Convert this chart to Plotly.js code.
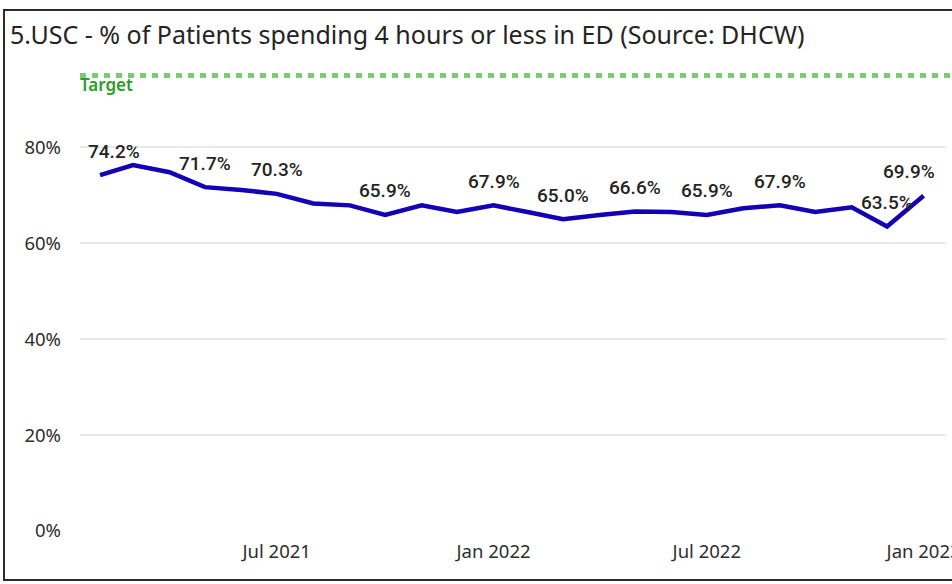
<!DOCTYPE html>
<html>
<head>
<meta charset="utf-8">
<script src="https://cdn.plot.ly/plotly-3.0.1.min.js"></script>
<style>
  html, body { margin: 0; padding: 0; background: #fff; overflow: hidden; }
  #wrap { position: relative; width: 952px; height: 584px; overflow: hidden; }
  #chart { position: absolute; left: 0; top: 0; width: 952px; height: 584px; }
  #frame { position: absolute; left: 3px; top: 9px; width: 1000px; height: 572px; border: 2px solid #2b2b2b; pointer-events: none; box-sizing: border-box; }
</style>
</head>
<body>
<div id="wrap">
  <div id="chart"></div>
  <div id="frame"></div>
</div>
<script>
const months = ["2021-02-01","2021-03-01","2021-04-01","2021-05-01","2021-06-01","2021-07-01",
                "2021-08-01","2021-09-01","2021-10-01","2021-11-01","2021-12-01","2022-01-01",
                "2022-02-01","2022-03-01","2022-04-01","2022-05-01","2022-06-01","2022-07-01",
                "2022-08-01","2022-09-01","2022-10-01","2022-11-01","2022-12-01","2023-01-01"];
const pctWithin4h = [74.2, 76.3, 74.8, 71.7, 71.1, 70.3,
                     68.3, 67.9, 65.9, 67.9, 66.5, 67.9,
                     66.4, 65.0, 65.9, 66.6, 66.5, 65.9,
                     67.3, 67.9, 66.5, 67.5, 63.5, 69.9];
const target = 95;
const targetLabel = "Target";
const labelledMonths = ["2021-02-01","2021-05-01","2021-07-01","2021-10-01","2022-01-01","2022-03-01",
                        "2022-05-01","2022-07-01","2022-09-01","2022-12-01","2023-01-01"];
const xTickVals = ["2021-07-01","2022-01-01","2022-07-01","2023-01-01"];
const xTickText = ["Jul 2021","Jan 2022","Jul 2022","Jan 2023"];
const yTickVals = [0, 20, 40, 60, 80];
const titleText = "5.USC - % of Patients spending 4 hours or less in ED (Source: DHCW)";

const labelFont = {family: "Roboto, 'DejaVu Sans', sans-serif", size: 19, color: "#252423", weight: 500};
const annotations = labelledMonths.map(function (m) {
  const i = months.indexOf(m);
  let xs = 0;
  if (i === 0) xs = 14;
  if (i === months.length - 1) xs = -15;
  return {
    x: m, y: pctWithin4h[i], xref: "x", yref: "y",
    text: pctWithin4h[i].toFixed(1) + "%",
    showarrow: false, yshift: 24, xshift: xs,
    font: labelFont
  };
});
annotations.push({
  xref: "paper", x: 0, xanchor: "left", yref: "y", y: target,
  text: targetLabel, showarrow: false, yshift: -9, xshift: -2,
  font: {family: "'Noto Sans', 'Open Sans', sans-serif", size: 17, color: "#2a9d27", weight: 600}
});

const traces = [{
  type: "scatter", mode: "lines",
  x: months, y: pctWithin4h,
  line: {color: "#1400b5", width: 4.5},
  hoverinfo: "skip"
}];

const tickFont = {family: "'Noto Sans', 'Open Sans', sans-serif", size: 18.5, color: "#2d2d2d"};

const layout = {
  width: 952, height: 584,
  margin: {l: 80, r: 6, t: 61, b: 53, pad: 0},
  paper_bgcolor: "#ffffff", plot_bgcolor: "#ffffff",
  showlegend: false,
  title: {
    text: titleText, xref: "container", yref: "container",
    x: 0.0105, xanchor: "left", y: 0.94, yanchor: "middle",
    font: {family: "'Noto Sans', 'Open Sans', sans-serif", size: 25, color: "#252423"}
  },
  xaxis: {
    type: "date", range: ["2021-01-15", "2023-01-20"],
    tickvals: xTickVals, ticktext: xTickText,
    showgrid: false, zeroline: false, showline: false, ticks: "",
    ticklabeloverflow: "allow", ticklabelstandoff: 7,
    tickfont: tickFont
  },
  yaxis: {
    range: [0, 98], tickvals: yTickVals, ticktext: yTickVals.map(v => v + "%"),
    showgrid: true, gridcolor: "#e9e9e9", gridwidth: 2,
    zeroline: false, showline: false, ticks: "",
    ticklabelstandoff: 18,
    tickfont: tickFont
  },
  shapes: [{
    type: "line", xref: "paper", x0: 0, x1: 1.01, yref: "y", y0: target, y1: target,
    line: {color: "#78cc74", width: 5, dash: "6px,6px"}
  }],
  annotations: annotations
};

Plotly.newPlot("chart", traces, layout, {displayModeBar: false, staticPlot: true});
</script>
</body>
</html>
